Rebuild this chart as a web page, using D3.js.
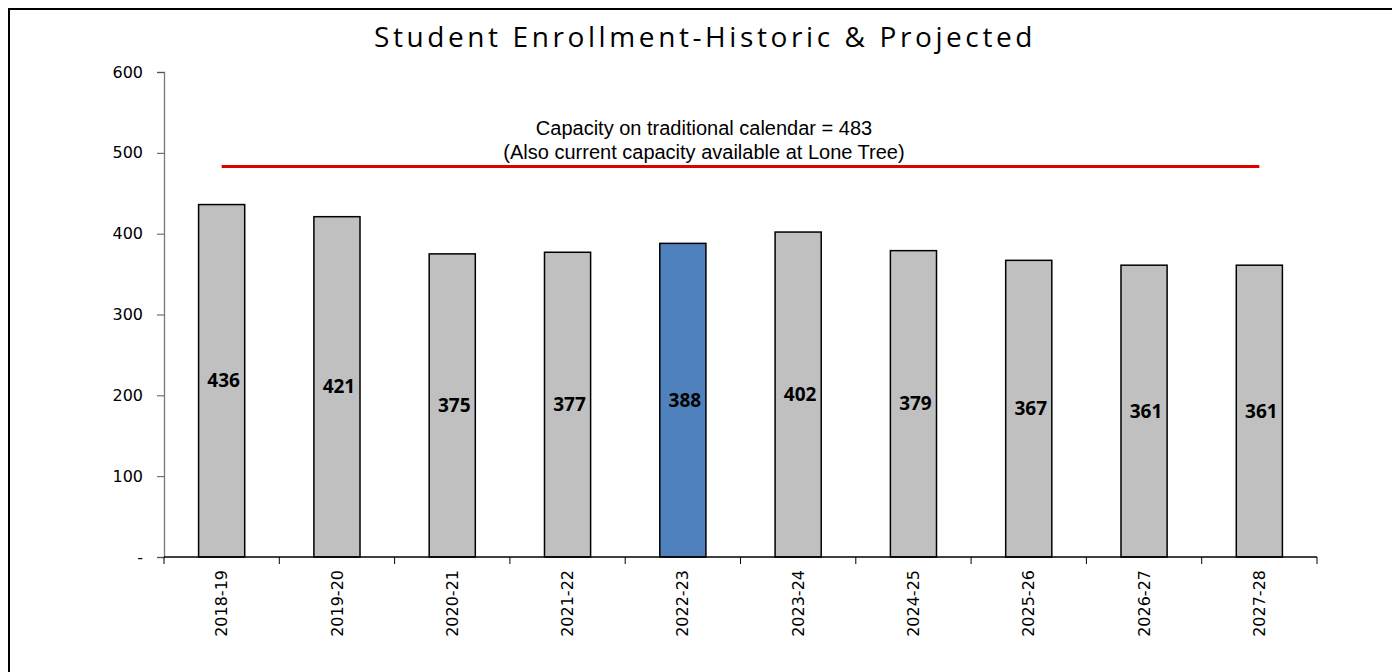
<!DOCTYPE html>
<meta charset="utf-8">
<script src="https://d3js.org/d3.v7.min.js"></script>
<style>
  body { margin: 0; background: #fff; }
</style>
<body>
<div id="canvas"></div>
<script>
  // dados
  var years = ["2018-19", "2019-20", "2020-21", "2021-22", "2022-23", "2023-24", "2024-25", "2025-26", "2026-27", "2027-28"];
  var enrollment = [436, 421, 375, 377, 388, 402, 379, 367, 361, 361];
  var currentYear = "2022-23";
  var capacity = 483;
  var capacityLines = ["Capacity on traditional calendar = 483", "(Also current capacity available at Lone Tree)"];
  var yTicks = [0, 100, 200, 300, 400, 500, 600];

  var width = 1392;
  var height = 672;
  var margin = {top: 72, right: 75, bottom: 115, left: 164};

  var svg = d3.select('#canvas')
    .append("svg")
    .attr("width", width)
    .attr("height", height);

  // moldura externa
  svg.append("rect")
    .attr("x", 9).attr("y", 9)
    .attr("width", 1400).attr("height", 700)
    .attr("fill", "none")
    .attr("stroke", "#000")
    .attr("stroke-width", 2);

  var w = width - margin.left - margin.right;
  var h = height - margin.top - margin.bottom;

  var g = svg.append("g")
    .attr("transform", "translate(" + margin.left + "," + margin.top + ")");

  var y = d3.scaleLinear().domain([0, 600]).range([h, 0]);
  var x = d3.scaleBand().domain(years).range([0, w]).paddingInner(0.6).paddingOuter(0.3);
  var xb = d3.scaleBand().domain(years).range([0, w]);

  // eixo Y
  var yAxis = d3.axisLeft(y)
    .tickValues(yTicks)
    .tickSize(7)
    .tickPadding(14)
    .tickFormat(function(d){ return d === 0 ? "-" : d; });
  var ya = g.append("g").call(yAxis);
  ya.select(".domain").attr("stroke", "#777").attr("stroke-width", 1.3);
  ya.selectAll(".tick line").attr("stroke", "#555");
  ya.selectAll("text")
    .style("font-family", "'DejaVu Sans', sans-serif")
    .style("font-size", "16px")
    .attr("fill", "#000");

  // barras
  g.selectAll(".bar")
    .data(years)
    .enter().append("rect")
    .attr("x", function(d){ return x(d); })
    .attr("y", function(d, i){ return y(enrollment[i]); })
    .attr("width", x.bandwidth())
    .attr("height", function(d, i){ return h - y(enrollment[i]); })
    .attr("fill", function(d){ return d === currentYear ? "#4f81bd" : "#c0c0c0"; })
    .attr("stroke", "#000")
    .attr("stroke-width", 1.5);

  // rotulos dos valores
  g.selectAll(".val")
    .data(years)
    .enter().append("text")
    .attr("x", function(d){ return x(d) + x.bandwidth() / 2 + 2; })
    .attr("y", function(d, i){ return (y(enrollment[i]) + h) / 2; })
    .attr("dy", "0.35em")
    .attr("text-anchor", "middle")
    .style("font-family", "'Open Sans', sans-serif")
    .style("font-weight", "bold")
    .style("font-size", "19px")
    .text(function(d, i){ return enrollment[i]; });

  // eixo X com ticks nas divisas
  var xa = g.append("g").attr("transform", "translate(0," + h + ")");
  xa.append("line").attr("x1", 0).attr("x2", w).attr("stroke", "#000").attr("stroke-width", 1.3);
  xa.selectAll(".xt")
    .data(years.concat(["end"]))
    .enter().append("line")
    .attr("x1", function(d, i){ return i * xb.bandwidth(); })
    .attr("x2", function(d, i){ return i * xb.bandwidth(); })
    .attr("y1", 0).attr("y2", 7)
    .attr("stroke", "#000");
  xa.selectAll(".xl")
    .data(years)
    .enter().append("text")
    .attr("transform", function(d){ return "translate(" + (x(d) + x.bandwidth() / 2) + ",13) rotate(-90)"; })
    .attr("dy", "0.35em")
    .attr("text-anchor", "end")
    .style("font-family", "'DejaVu Sans', sans-serif")
    .style("font-size", "16px")
    .text(function(d){ return d; });

  // linha de capacidade
  var first = years[0], last = years[years.length - 1];
  g.append("line")
    .attr("x1", x(first) + x.bandwidth() / 2)
    .attr("x2", x(last) + x.bandwidth() / 2)
    .attr("y1", y(capacity)).attr("y2", y(capacity))
    .attr("stroke", "#e00000")
    .attr("stroke-width", 3);

  // texto da capacidade
  g.selectAll(".cap")
    .data(capacityLines)
    .enter().append("text")
    .attr("x", 540)
    .attr("y", function(d, i){ return 63 + i * 24; })
    .attr("text-anchor", "middle")
    .style("font-family", "'Liberation Sans', Arial, sans-serif")
    .style("font-size", "20px")
    .text(function(d){ return d; });

  // titulo
  svg.append("text")
    .attr("x", 705).attr("y", 47)
    .attr("text-anchor", "middle")
    .style("font-family", "'Open Sans', sans-serif")
    .style("font-size", "28px")
    .style("letter-spacing", "3.6px")
    .text("Student Enrollment-Historic & Projected");
</script>
</body>
